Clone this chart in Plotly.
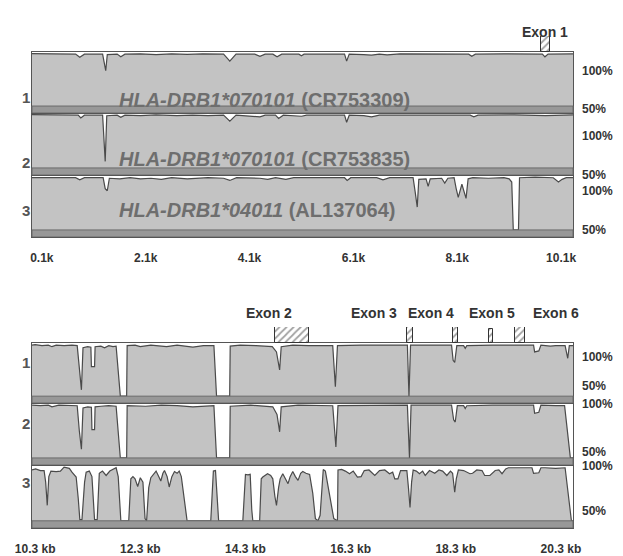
import plotly.graph_objects as go

W, H = 623, 556

# ---------------- data ----------------
top_ticks = [0.1, 2.1, 4.1, 6.1, 8.1, 10.1]
top_ticktext = ["0.1k", "2.1k", "4.1k", "6.1k", "8.1k", "10.1k"]
bot_ticks = [10.3, 12.3, 14.3, 16.3, 18.3, 20.3]
bot_ticktext = ["10.3 kb", "12.3 kb", "14.3 kb", "16.3 kb", "18.3 kb", "20.3 kb"]

track_numbers = ["1", "2", "3"]
seq_names = ["<i>HLA-DRB1*070101</i> (CR753309)",
             "<i>HLA-DRB1*070101</i> (CR753835)",
             "<i>HLA-DRB1*04011</i> (AL137064)"]

# top group (0.1k - 10.1k)
t1_x = [-0.09, 0.3, 0.6, 0.75, 0.83, 0.92, 1.27, 1.31, 1.33, 1.36, 1.55, 1.62, 1.7, 2.0, 2.3, 2.6, 2.9, 3.2,
        3.6, 3.72, 3.84, 4.2, 4.3, 4.4, 4.55, 4.63, 4.72, 5.05, 5.1, 5.15, 5.93, 5.97, 6.02, 6.3, 6.45, 6.6,
        6.75, 7.0, 7.5, 8.0, 8.32, 8.38, 8.45, 9.0, 9.5, 9.74, 9.79, 9.85, 10.33]
t1_y = [99, 98.8, 98.5, 98.5, 95.5, 98.5, 98.5, 88, 83, 98, 98.5, 96, 98.5, 98.8, 98, 98.8, 98.2, 98.8,
        98.5, 92, 98.5, 98.5, 96.5, 98.5, 98.5, 96, 98.5, 98.5, 97, 98.5, 98.5, 92, 98.5, 98, 97.5, 98.5,
        97.8, 98.8, 98.6, 98.5, 98.5, 96.5, 98.5, 98.8, 98.5, 98.5, 96, 98.5, 98.8]

t2_x = [-0.09, 0.6, 0.8, 0.85, 0.92, 1.27, 1.3, 1.32, 1.35, 1.55, 1.62, 1.7, 2.0, 2.3, 2.7, 3.0, 3.3, 3.6,
        3.72, 3.84, 4.3, 4.4, 4.6, 4.66, 4.75, 5.1, 5.2, 5.93, 5.97, 6.02, 6.3, 6.45, 6.6, 7.2, 7.6, 8.0,
        8.35, 8.42, 8.5, 9.2, 9.8, 10.33]
t2_y = [99, 98.5, 98.5, 96, 98.5, 98.5, 75, 56, 98, 98.5, 96.5, 98.5, 98, 98.8, 98, 98.5, 98, 98.5,
        93, 98.5, 97, 98.5, 98.5, 95.5, 98.5, 97.5, 98.5, 98.5, 92, 98.5, 98, 97, 98.5, 98.5, 98, 98.5,
        98.5, 97, 98.5, 98.8, 98, 98.8]

t3_x = [-0.09, 0.3, 0.6, 0.75, 0.83, 0.92, 1.28, 1.32, 1.36, 1.4, 1.6, 1.8, 2.0, 2.2, 2.4, 2.6, 2.9, 3.1,
        3.3, 3.6, 3.72, 3.85, 4.3, 4.45, 4.6, 4.8, 4.95, 5.5, 5.93, 5.98, 6.05, 6.55, 6.67, 6.8, 7.25, 7.29,
        7.33, 7.36, 7.5, 7.54, 7.58, 7.8, 7.86, 7.92, 8.04, 8.08, 8.12, 8.19, 8.27, 8.31, 8.4, 8.7, 9.0,
        9.1, 9.15, 9.18, 9.28, 9.3, 9.6, 9.95, 10.05, 10.12, 10.2, 10.33]
t3_y = [98, 98, 97.5, 98, 96, 98, 98, 88, 86, 97.5, 97, 98, 97, 97.5, 96.5, 98, 97, 97.5,
        98, 97.5, 95.5, 98, 97.5, 96.5, 98, 96.5, 98, 98, 98, 95.5, 98, 98, 96, 98, 98, 85,
        71, 96.5, 97, 90, 97, 97.5, 93, 97.5, 98, 88, 80, 92, 79, 97, 98, 97.5, 98,
        97, 94, 50, 50, 98, 98.5, 98, 94, 96.5, 98, 98]

# bottom group (10.3 kb - 20.3 kb)
b1_x = [10.24, 10.3, 10.43, 10.55, 10.62, 10.7, 10.85, 11.0, 11.1, 11.15, 11.18, 11.21, 11.3, 11.36, 11.37,
        11.43, 11.44, 11.55, 11.62, 11.7, 11.78, 11.84, 11.92, 12.04, 12.05, 12.2, 12.3, 12.5, 12.8, 13.0,
        13.3, 13.5, 13.7, 13.75, 14.0, 14.01, 14.2, 14.5, 14.7, 14.81, 14.89, 14.95, 14.98, 15.2, 15.5,
        15.96, 16.01, 16.05, 16.5, 17.0, 17.38, 17.41, 17.44, 17.8, 18.22, 18.25, 18.28, 18.32, 18.45,
        18.48, 18.51, 19.0, 19.78, 19.8, 19.88, 19.92, 20.1, 20.2, 20.38, 20.43, 20.46, 20.53]
b1_y = [98.5, 99, 98, 98.5, 97, 98.5, 98, 98.5, 98, 70, 56, 96, 97, 96.5, 78,
        78, 97, 97.5, 96, 98, 97, 97.5, 50, 50, 98, 98.5, 97, 98.5, 97, 98.5,
        96.5, 98, 98, 50, 50, 97.5, 98.5, 98, 97, 97, 92, 75, 97, 98.5, 98,
        98, 59, 98, 98.5, 98.5, 98.5, 50, 98.5, 98.5, 98.5, 84, 82, 98, 98,
        95.5, 98, 98.5, 98.5, 92, 93, 98.5, 97.5, 98, 98, 86, 98, 98]

b2_x = [10.24, 10.4, 10.55, 10.62, 10.75, 11.1, 11.14, 11.18, 11.21, 11.3, 11.37, 11.38, 11.43, 11.44,
        11.55, 11.7, 11.84, 11.92, 12.04, 12.05, 12.4, 12.7, 13.0, 13.3, 13.7, 13.75, 14.0, 14.01, 14.4,
        14.7, 14.82, 14.9, 14.95, 14.98, 15.3, 15.96, 16.02, 16.06, 17.0, 17.38, 17.42, 17.45, 18.22,
        18.26, 18.29, 18.33, 18.45, 18.48, 18.51, 19.0, 19.78, 19.8, 19.88, 19.92, 20.2, 20.37, 20.48, 20.53]
b2_y = [98.5, 98, 98.5, 97, 98.5, 98, 75, 58, 96, 97, 96.5, 76, 76, 97,
        97.5, 98, 97.5, 50, 50, 98, 97.5, 98.5, 98, 97, 98, 50, 50, 97.5, 98.5,
        97.5, 97, 90, 74, 97, 98.5, 98, 60, 98, 98.5, 98.5, 50, 98.5, 98.5,
        85, 83, 98, 98, 95.5, 98, 98.5, 98.5, 91, 92, 98.5, 98, 98, 50, 50]

b3_x = [10.24, 10.31, 10.4, 10.47, 10.5, 10.53, 10.56, 10.6, 10.7, 10.78, 10.85, 10.95, 11.0, 11.08, 11.12,
        11.15, 11.19, 11.24, 11.27, 11.33, 11.38, 11.43, 11.48, 11.52, 11.58, 11.65, 11.72, 11.8, 11.84,
        11.88, 11.93, 12.08, 12.12, 12.16, 12.2, 12.25, 12.3, 12.35, 12.39, 12.42, 12.46, 12.5, 12.56,
        12.6, 12.65, 12.69, 12.73, 12.76, 12.81, 12.85, 12.9, 12.95, 13.0, 13.04, 13.08, 13.14, 13.19,
        13.64, 13.67, 13.69, 13.73, 13.76, 13.79, 14.25, 14.3, 14.35, 14.39, 14.42, 14.44, 14.57, 14.6,
        14.63, 14.68, 14.72, 14.78, 14.82, 14.86, 14.89, 14.93, 14.96, 15.01, 15.06, 15.11, 15.15, 15.2,
        15.25, 15.3, 15.35, 15.39, 15.45, 15.52, 15.58, 15.63, 15.68, 15.72, 15.78, 15.82, 15.98, 16.03,
        16.05, 16.06, 16.13, 16.2, 16.28, 16.35, 16.43, 16.5, 16.56, 16.65, 16.76, 16.85, 16.95, 17.04,
        17.1, 17.14, 17.2, 17.25, 17.37, 17.4, 17.43, 17.46, 17.49, 17.55, 17.61, 17.67, 17.72, 17.8,
        17.9, 17.98, 18.05, 18.13, 18.2, 18.24, 18.28, 18.31, 18.35, 18.45, 18.57, 18.62, 18.7, 18.8,
        18.85, 18.95, 19.05, 19.12, 19.18, 19.25, 19.3, 19.75, 19.78, 19.88, 19.92, 20.0, 20.2, 20.38,
        20.5, 20.53]
b3_y = [96, 97, 95.5, 95.5, 85, 64, 90, 95, 94.5, 95, 98.5, 97.5, 94, 89.6, 70,
        51, 51, 85, 94, 95, 90, 51, 51, 93, 95, 91, 95, 97, 98,
        90, 50, 50, 88, 90, 88, 81, 89, 85, 52, 50, 80, 89, 92,
        95, 90, 86, 93, 95.5, 90, 80.6, 90, 94.6, 93, 95, 90, 70, 50,
        50, 80, 95, 95.5, 70, 50, 50, 92, 91.5, 92, 60, 50, 50, 88,
        89.6, 91, 92.6, 91, 88, 72, 64, 80, 88, 92.6, 88, 83.6, 90, 94.6,
        90, 86.6, 93, 94.6, 93, 92, 75, 52, 50, 55, 96.5, 95, 52, 50,
        50, 96, 96.5, 95, 92.6, 95, 89.6, 90, 95.5, 96, 91, 95.5, 96, 92.6,
        94, 88, 88, 95.5, 95.5, 80, 62, 85, 96, 95, 92.6, 95, 91, 95.5,
        93, 96, 95, 91, 95, 93, 76, 88, 96, 95.5, 92.6, 93, 96, 95.5,
        91, 91, 95.5, 96, 92.6, 97, 98, 98, 93, 93.5, 98, 98, 97.5, 98,
        50, 50]

# exons: (label, start kb, end kb, relative height)
top_exon_names = ["Exon 1"]
top_exon_start = [9.72]
top_exon_end = [9.89]
top_exon_height = [1.0]
top_exon_label_x = [9.8]

bot_exon_names = ["Exon 2", "Exon 3", "Exon 4", "Exon 5", "Exon 6"]
bot_exon_start = [14.87, 17.37, 18.24, 18.94, 19.42]
bot_exon_end = [15.50, 17.48, 18.34, 19.00, 19.61]
bot_exon_height = [1.0, 1.0, 1.0, 0.85, 1.0]
bot_exon_label_x = [14.75, 16.75, 17.83, 18.98, 20.21]

# ---------------- layout helpers ----------------
FONT = "Liberation Sans, Arial, sans-serif"
X_DOM = [32 / W, 573 / W]
panels_px = [(52, 113), (113, 175), (175, 237), (343, 403), (403, 465), (465, 528)]
top_range = [-0.09, 10.33]
bot_range = [10.24, 20.53]
Y_RANGE = [43.5, 100.5]

def ydom(top, bottom):
    return [1 - bottom / H, 1 - top / H]

fig = go.Figure()
tracks = [(t1_x, t1_y), (t2_x, t2_y), (t3_x, t3_y), (b1_x, b1_y), (b2_x, b2_y), (b3_x, b3_y)]
layout = dict(width=W, height=H, margin=dict(l=0, r=0, t=0, b=0, pad=0, autoexpand=False),
              paper_bgcolor="white", plot_bgcolor="white", showlegend=False,
              font=dict(family=FONT, color="#333"), bargap=0)
shapes = []
annotations = []

for i, (xs, ys) in enumerate(tracks):
    n = i + 1
    xa = "x" if n == 1 else f"x{n}"
    ya = "y" if n == 1 else f"y{n}"
    fig.add_trace(go.Scatter(x=xs, y=ys, mode="lines", xaxis=xa, yaxis=ya,
                             line=dict(color="#4a4a4a", width=1.2),
                             fill="tozeroy", fillcolor="#c3c3c3", hoverinfo="skip"))
    top, bottom = panels_px[i]
    is_last = n in (3, 6)
    rng = top_range if n <= 3 else bot_range
    tv = top_ticks if n <= 3 else bot_ticks
    tt = top_ticktext if n <= 3 else bot_ticktext
    layout["xaxis" if n == 1 else f"xaxis{n}"] = dict(
        domain=X_DOM, anchor=ya, range=rng, showgrid=False, zeroline=False, automargin=False,
        showline=True, mirror=True, linecolor="#555", linewidth=1,
        tickvals=tv if is_last else [], ticktext=tt if is_last else [],
        showticklabels=is_last, ticks="", ticklabelstandoff=10,
        tickfont=dict(size=12, family=FONT, color="#333", weight="bold"))
    layout["yaxis" if n == 1 else f"yaxis{n}"] = dict(
        domain=ydom(top, bottom), anchor=xa, range=Y_RANGE, showgrid=False, automargin=False,
        zeroline=False, showline=True, mirror=True, linecolor="#555", linewidth=1,
        showticklabels=False, ticks="")
    # dark separator band (below 50 %)
    shapes.append(dict(type="rect", xref=f"{xa} domain", yref=ya, x0=0, x1=1,
                       y0=Y_RANGE[0], y1=50, fillcolor="#989898",
                       line=dict(color="#6a6a6a", width=1), layer="above"))

# exon strips
layout["yaxis7"] = dict(domain=ydom(36, 52), anchor="x", range=[0, 1], visible=False, automargin=False)
layout["yaxis8"] = dict(domain=ydom(327, 343), anchor="x4", range=[0, 1], visible=False, automargin=False)

def add_exons(starts, ends, heights, xa, ya):
    fig.add_trace(go.Bar(
        x=[(s + e) / 2 for s, e in zip(starts, ends)],
        y=heights, width=[e - s for s, e in zip(starts, ends)],
        xaxis=xa, yaxis=ya, hoverinfo="skip",
        marker=dict(color="white", line=dict(color="#333", width=1),
                    pattern=dict(shape="/", fgcolor="#444", bgcolor="white", size=5, solidity=0.35))))

add_exons(top_exon_start, top_exon_end, top_exon_height, "x", "y7")
add_exons(bot_exon_start, bot_exon_end, bot_exon_height, "x4", "y8")

for name, lx in zip(top_exon_names, top_exon_label_x):
    annotations.append(dict(text=name, x=lx, xref="x", y=1 - 22 / H, yref="paper",
                            showarrow=False, font=dict(size=14, color="#333", weight="bold")))
for name, lx in zip(bot_exon_names, bot_exon_label_x):
    annotations.append(dict(text=name, x=lx, xref="x4", y=1 - 313 / H, yref="paper",
                            showarrow=False, font=dict(size=14, color="#333", weight="bold")))

# track numbers
num_y = [87, 152, 210, 373, 434, 493]
for k, yy in enumerate(num_y):
    annotations.append(dict(text=track_numbers[k % 3], x=20 / W, xref="paper", y=1 - yy / H,
                            yref="paper", showarrow=False,
                            font=dict(size=15, color="#555", weight="bold")))

# percentage labels
pct_pos = [(62, "100%"), (100, "50%"), (127, "100%"), (166, "50%"), (182, "100%"), (230, "50%"),
           (357, "100%"), (395, "50%"), (413, "100%"), (461, "50%"), (475, "100%"), (520, "50%")]
for yy, txt in pct_pos:
    annotations.append(dict(text=txt, x=580 / W, xref="paper", xanchor="left", y=1 - yy / H,
                            yref="paper", showarrow=False,
                            font=dict(size=12, color="#333", weight="bold")))

# sequence names
name_y = [87, 146, 210]
for txt, yy in zip(seq_names, name_y):
    annotations.append(dict(text=txt, x=117 / W, xref="paper", xanchor="left", y=1 - yy / H,
                            yref="paper", showarrow=False,
                            font=dict(size=20, color="#6e6e6e", weight="bold")))

layout["shapes"] = shapes
layout["annotations"] = annotations
fig.update_layout(**layout)
fig.write_html("out.html", config={"displayModeBar": False},
               post_script="document.body.style.margin='0';document.body.style.padding='0';")
